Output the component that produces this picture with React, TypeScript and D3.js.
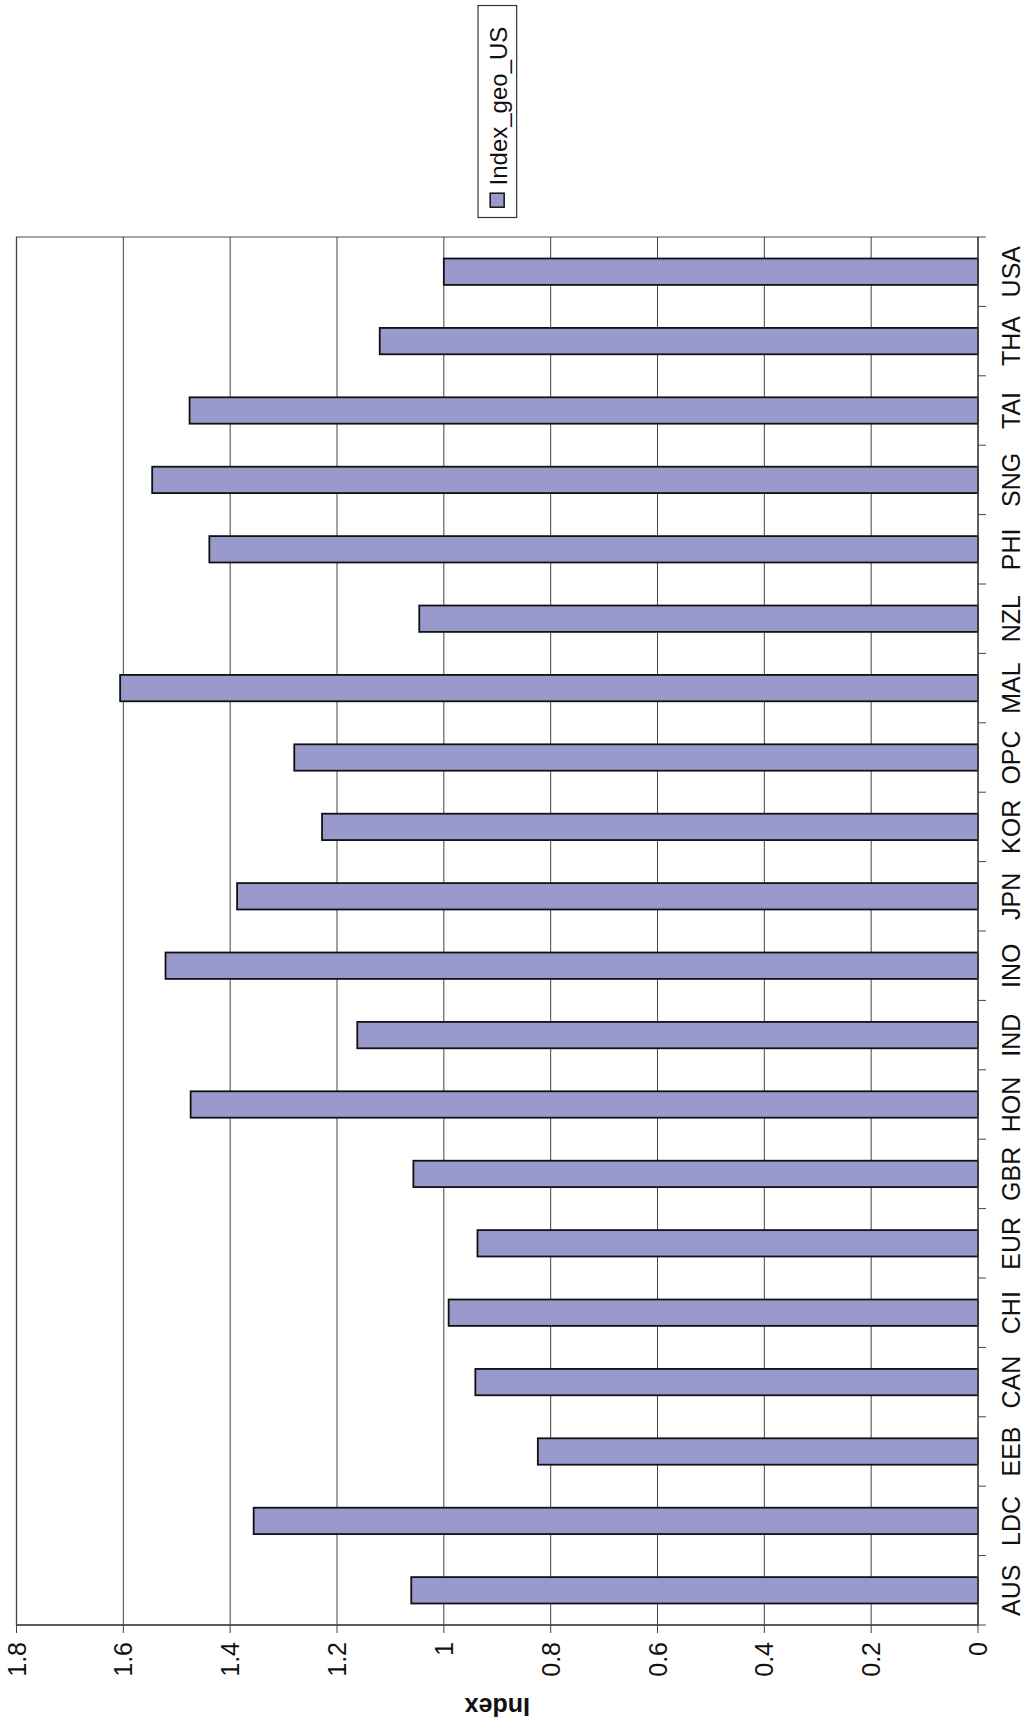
import * as d3 from "d3";

const categories = ["AUS", "LDC", "EEB", "CAN", "CHI", "EUR", "GBR", "HON", "IND", "INO", "JPN", "KOR", "OPC", "MAL", "NZL", "PHI", "SNG", "TAI", "THA", "USA"];
const values = [1.061, 1.356, 0.824, 0.941, 0.991, 0.937, 1.057, 1.474, 1.162, 1.521, 1.387, 1.228, 1.28, 1.606, 1.046, 1.439, 1.546, 1.476, 1.12, 1.0];
const ticks = [0, 0.2, 0.4, 0.6, 0.8, 1, 1.2, 1.4, 1.6, 1.8];

export default function App() {
  const W = 1034, H = 1731;
  const s = 1.104;
  const left = 16.5, right = 978, top = 237, bottom = 1625;
  const x = d3.scaleLinear().domain([0, 1.8]).range([right, left]);
  const y = d3.scaleBand().domain([...categories].reverse()).range([top, bottom]).paddingInner(0.62).paddingOuter(0.31);
  const band = (bottom - top) / categories.length;
  const font = "Liberation Sans, Arial, sans-serif";
  const fs = 25;
  return (
    <svg width={W} height={H} style={{ position: "absolute", left: 0, top: 0, background: "#fff" }} fontFamily={font}>
      <rect x={left} y={top} width={right - left} height={bottom - top} fill="none" stroke="#888" strokeWidth={1.5} />
      {ticks.slice(1).map((t) => (
        <line key={t} x1={x(t)} x2={x(t)} y1={top} y2={bottom} stroke="#444" strokeWidth={1} />
      ))}
      {categories.map((c, i) => (
        <rect key={c} x={x(values[i])} y={y(c)!} width={x(0) - x(values[i])} height={y.bandwidth()} fill="#9999cc" stroke="#111" strokeWidth={1.8} />
      ))}
      {/* category axis */}
      <line x1={right} x2={right} y1={top} y2={bottom} stroke="#444" strokeWidth={1.5} />
      {d3.range(categories.length + 1).map((i) => (
        <line key={i} x1={right} x2={right + 8} y1={top + i * band} y2={top + i * band} stroke="#444" />
      ))}
      {categories.map((c) => {
        const cy = y(c)! + y.bandwidth() / 2;
        return (
          <text key={c} transform={`translate(${right + 42},${cy}) rotate(-90)`} textAnchor="middle" fontSize={fs} fill="#111">{c}</text>
        );
      })}
      {/* value axis */}
      <line x1={left} x2={right} y1={bottom} y2={bottom} stroke="#444" strokeWidth={1.5} />
      {ticks.map((t) => (
        <g key={t}>
          <line x1={x(t)} x2={x(t)} y1={bottom} y2={bottom + 8} stroke="#444" />
          <text transform={`translate(${x(t) + 9},${bottom + 17}) rotate(-90)`} textAnchor="end" fontSize={fs} fill="#111">{t}</text>
        </g>
      ))}
      <text transform={`translate(${x(0.9)},${bottom + 73}) rotate(180)`} textAnchor="middle" fontSize={fs} fontWeight="bold" fill="#111">Index</text>
      {/* legend */}
      <rect x={433 * s} y={5 * s} width={35 * s} height={192 * s} fill="#fff" stroke="#333" strokeWidth={1.2} />
      <rect x={444 * s} y={175 * s} width={14} height={14} fill="#9999cc" stroke="#111" strokeWidth={1.5} />
      <text transform={`translate(${458 * s + 1},${168 * s}) rotate(-90)`} fontSize={24} fill="#111">Index_geo_US</text>
    </svg>
  );
}
